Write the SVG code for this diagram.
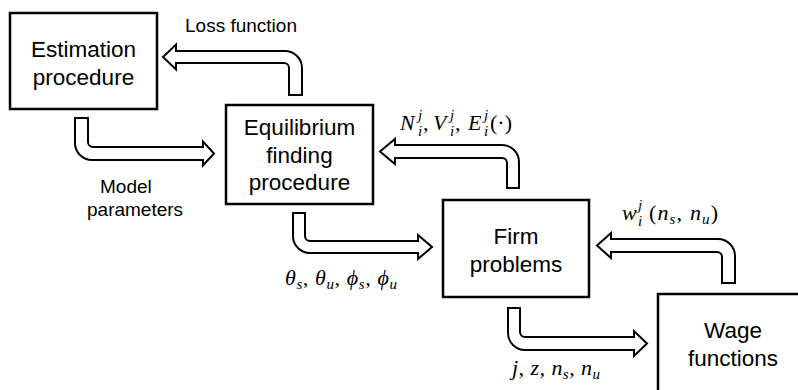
<svg xmlns="http://www.w3.org/2000/svg" width="798" height="390" viewBox="0 0 798 390">
<style>
.box{fill:#fff;stroke:#000;stroke-width:2.5}
.arr{fill:#fff;stroke:#000;stroke-width:2;stroke-linejoin:miter}
.t{font-family:"Liberation Sans",Arial,sans-serif;font-size:22.5px;fill:#000;text-anchor:middle}
.l{font-family:"Liberation Sans",Arial,sans-serif;font-size:19px;fill:#000}
.m{font-family:"Liberation Serif","Times New Roman",serif;font-style:italic;font-size:22px;fill:#000}
.ms{font-family:"Liberation Serif","Times New Roman",serif;font-style:italic;font-size:15px;fill:#000}
.up{font-style:normal}
</style>
<rect width="798" height="390" fill="#fff"/>
<g id="connectors">
<path class="arr" d="M289,95 L289,68 A5 5 0 0 0 284,63 L176,63 L176,69.5 L163,57 L176,44.5 L176,51 L285,51 A17 17 0 0 1 302,68 L302,95 Z"/>
<path class="arr" d="M75,118 L88,118 L88,142 A5 5 0 0 0 93,147 L203,147 L203,141.5 L214,153.5 L203,165.5 L203,160 L92,160 A17 17 0 0 1 75,143 Z"/>
<path class="arr" d="M507,188 L507,163 A5 5 0 0 0 502,158 L395,158 L395,164 L380,151.5 L395,139 L395,145 L502,145 A17 17 0 0 1 519,162 L519,188 Z"/>
<path class="arr" d="M293,213 L305,213 L305,236 A5 5 0 0 0 310,241 L418,241 L418,235 L432,247 L418,259 L418,253 L310,253 A17 17 0 0 1 293,236 Z"/>
<path class="arr" d="M722,283 L722,257 A5 5 0 0 0 717,252 L611,252 L611,258 L597,245.5 L611,233 L611,239 L718,239 A17 17 0 0 1 735,256 L735,283 Z"/>
<path class="arr" d="M508,308 L520,308 L520,332 A5 5 0 0 0 525,337 L634,337 L634,331 L647,343.5 L634,356 L634,350 L525,350 A17 17 0 0 1 508,333 Z"/>
<text class="l" x="185" y="32">Loss function</text>
<text class="l" x="100" y="193">Model</text>
<text class="l" x="87" y="216">parameters</text>
<text class="m" x="400" y="130">N</text><text class="ms" x="418" y="120">j</text><text class="ms" x="418" y="136">i</text>
<text class="m" x="423" y="130">,</text>
<text class="m" x="433" y="130">V</text><text class="ms" x="450" y="120">j</text><text class="ms" x="450" y="136">i</text>
<text class="m" x="455" y="130">,</text>
<text class="m" x="468" y="130">E</text><text class="ms" x="484" y="120">j</text><text class="ms" x="484" y="136">i</text>
<text class="m up" x="490" y="130">(·)</text>
<text class="m" x="285" y="285" font-size="21" textLength="112">θ<tspan class="ms" dy="4">s</tspan><tspan dy="-4">, θ</tspan><tspan class="ms" dy="4">u</tspan><tspan dy="-4">, ϕ</tspan><tspan class="ms" dy="4">s</tspan><tspan dy="-4">, ϕ</tspan><tspan class="ms" dy="4">u</tspan></text>
<text class="m" x="622" y="220">w</text><text class="ms" x="638" y="210">j</text><text class="ms" x="638" y="226">i</text>
<text class="m" x="649" y="220" textLength="69"><tspan class="up">(</tspan>n<tspan class="ms" dy="4">s</tspan><tspan dy="-4">, n</tspan><tspan class="ms" dy="4">u</tspan><tspan class="up" dy="-4">)</tspan></text>
<text class="m" x="512" y="375" font-size="21" textLength="88">j, z, n<tspan class="ms" dy="4">s</tspan><tspan dy="-4">, n</tspan><tspan class="ms" dy="4">u</tspan></text>
</g>
<g id="estimation">
<rect class="box" x="10" y="13" width="147" height="96"/>
<text class="t" x="83.5" y="57">Estimation</text>
<text class="t" x="83.5" y="85">procedure</text>
</g>
<g id="equilibrium">
<rect class="box" x="226" y="105" width="147" height="99"/>
<text class="t" x="299.5" y="135">Equilibrium</text>
<text class="t" x="299.5" y="163">finding</text>
<text class="t" x="299.5" y="190">procedure</text>
</g>
<g id="firm">
<rect class="box" x="443" y="200" width="146" height="97"/>
<text class="t" x="516" y="244">Firm</text>
<text class="t" x="516" y="272">problems</text>
</g>
<g id="wage">
<rect class="box" x="658" y="294" width="160" height="120"/>
<text class="t" x="733" y="338">Wage</text>
<text class="t" x="733" y="366">functions</text>
</g>
</svg>
